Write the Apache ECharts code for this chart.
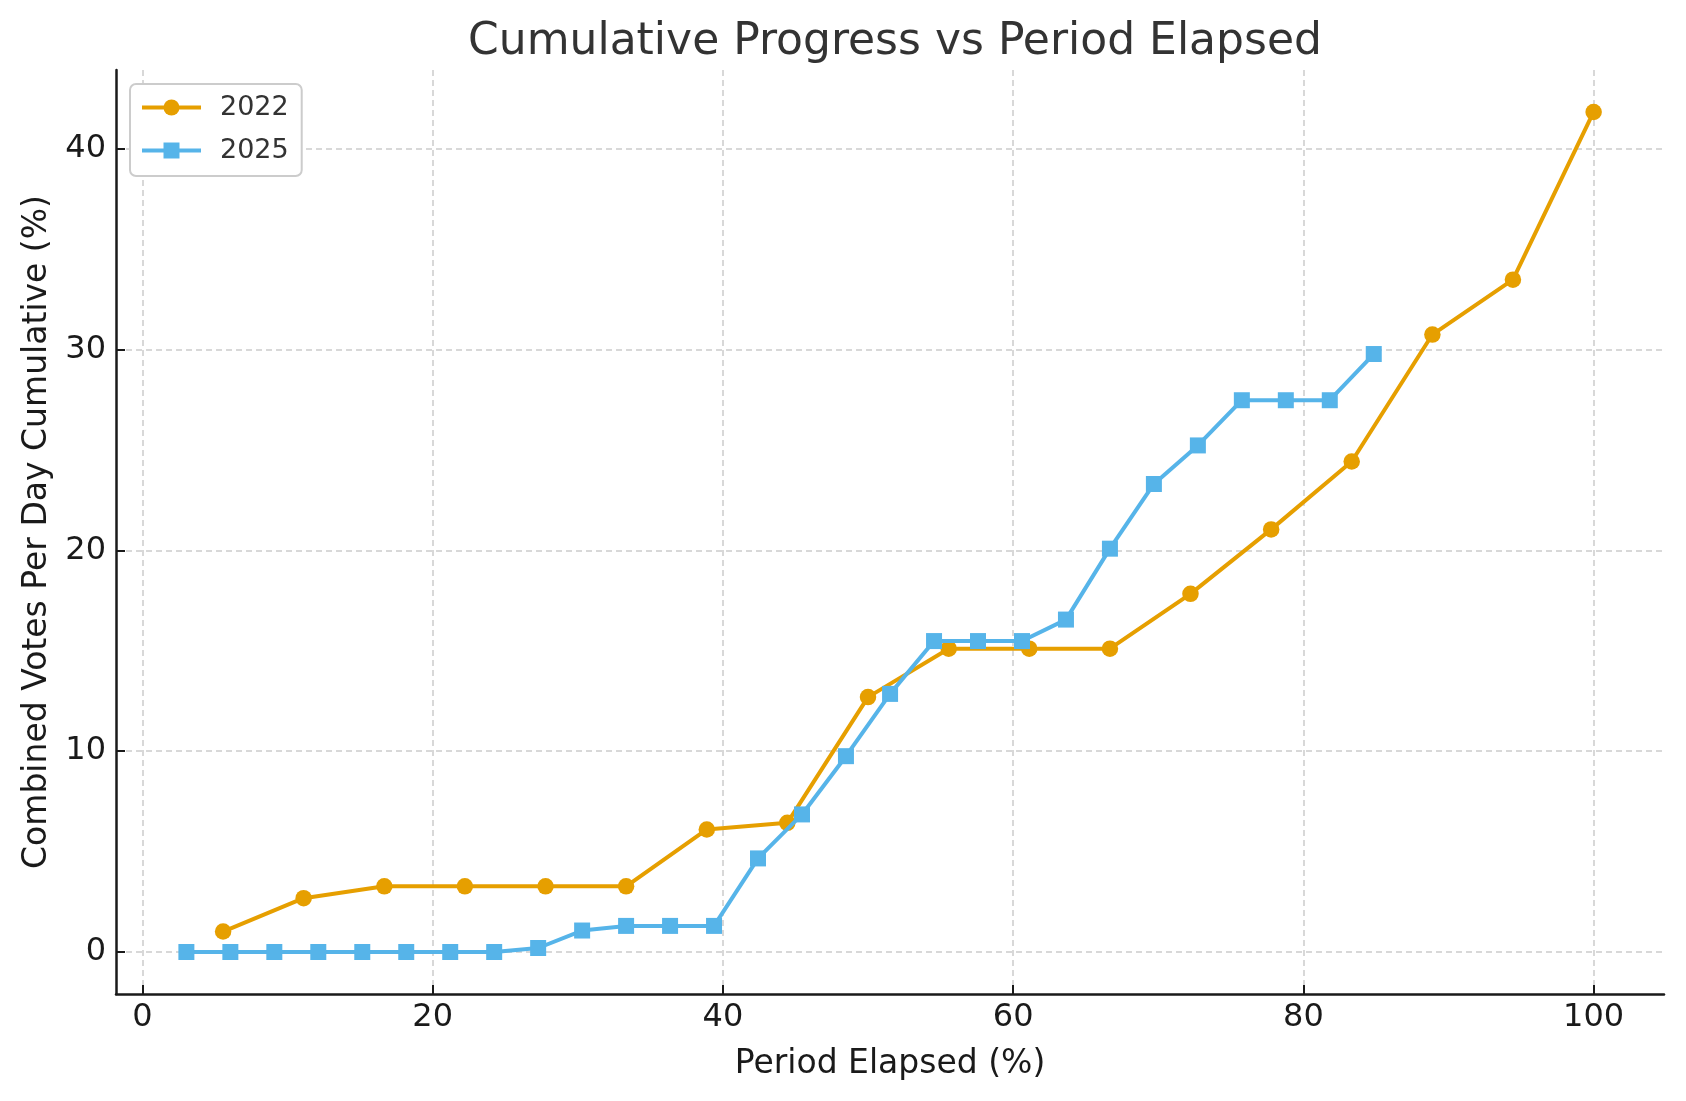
<!DOCTYPE html>
<html>
<head>
<meta charset="utf-8">
<script src="https://cdn.jsdelivr.net/npm/echarts@6/dist/echarts.min.js"></script>
<style>
html, body { margin: 0; padding: 0; background: #fff; }
#chart { width: 1686px; height: 1101px; }
</style>
</head>
<body>
<div id="chart"></div>
<script>
const seriesNames = ['2022', '2025'];
const x2022 = [5.56, 11.11, 16.67, 22.22, 27.78, 33.33, 38.89, 44.44, 50.00, 55.56, 61.11, 66.67, 72.22, 77.78, 83.33, 88.89, 94.44, 100.00];
const y2022 = [1.02, 2.68, 3.27, 3.27, 3.27, 3.27, 6.10, 6.43, 12.69, 15.10, 15.10, 15.10, 17.83, 21.04, 24.42, 30.74, 33.47, 41.82];
const x2025 = [3.03, 6.06, 9.09, 12.12, 15.15, 18.18, 21.21, 24.24, 27.27, 30.30, 33.33, 36.36, 39.39, 42.42, 45.45, 48.48, 51.52, 54.55, 57.58, 60.61, 63.64, 66.67, 69.70, 72.73, 75.76, 78.79, 81.82, 84.85];
const y2025 = [0, 0, 0, 0, 0, 0, 0, 0, 0.20, 1.07, 1.30, 1.30, 1.30, 4.66, 6.85, 9.75, 12.85, 15.48, 15.48, 15.48, 16.55, 20.08, 23.30, 25.22, 27.47, 27.47, 27.47, 29.77];
const xTicks = [0, 20, 40, 60, 80, 100];
const yTicks = [0, 10, 20, 30, 40];

const toPairs = (xs, ys) => xs.map((x, i) => [x, ys[i]]);

const chart = echarts.init(document.getElementById('chart'), null, { renderer: 'canvas' });
const font = 'DejaVu Sans';
const splitStyle = { show: true, lineStyle: { color: '#cccccc', width: 1.5, type: [6, 4] } };

chart.setOption({
  animation: false,
  backgroundColor: '#ffffff',
  textStyle: { fontFamily: font },
  title: {
    text: 'Cumulative Progress vs Period Elapsed',
    left: 890,
    textAlign: 'center',
    top: 16,
    textStyle: { fontFamily: font, fontSize: 44, fontWeight: 'normal', color: '#333333' }
  },
  legend: {
    data: seriesNames,
    orient: 'vertical',
    left: 130,
    top: 84,
    backgroundColor: '#ffffff',
    borderColor: '#cccccc',
    borderWidth: 2,
    borderRadius: 6,
    padding: [10, 13, 12, 10],
    itemWidth: 59,
    itemHeight: 20,
    itemGap: 16,
    lineStyle: { width: 4 },
    textStyle: { fontFamily: font, fontSize: 27, color: '#333333', padding: [0, 0, 0, 14] }
  },
  grid: { left: 116, right: 22, top: 70, bottom: 107, containLabel: false, outerBoundsMode: 'none' },
  xAxis: {
    type: 'value',
    min: -1.82,
    max: 104.85,
    name: 'Period Elapsed (%)',
    nameLocation: 'middle',
    nameGap: 54,
    nameTextStyle: { fontFamily: font, fontSize: 33, color: '#1a1a1a' },
    axisLine: { show: true, onZero: false, lineStyle: { color: '#1a1a1a', width: 2.5 } },
    axisTick: { show: true, inside: true, length: 9, customValues: xTicks, lineStyle: { color: '#1a1a1a', width: 2 } },
    axisLabel: { customValues: xTicks, margin: 8, fontFamily: font, fontSize: 32, color: '#1a1a1a' },
    splitLine: splitStyle
  },
  yAxis: {
    type: 'value',
    min: -2.09,
    max: 43.91,
    name: 'Combined Votes Per Day Cumulative (%)',
    nameLocation: 'middle',
    nameGap: 62,
    nameRotate: 90,
    nameTextStyle: { fontFamily: font, fontSize: 33, color: '#1a1a1a' },
    axisLine: { show: true, onZero: false, lineStyle: { color: '#1a1a1a', width: 2.5 } },
    axisTick: { show: true, inside: true, length: 9, customValues: yTicks, lineStyle: { color: '#1a1a1a', width: 2 } },
    axisLabel: { customValues: yTicks, margin: 10, fontFamily: font, fontSize: 32, color: '#1a1a1a' },
    splitLine: splitStyle
  },
  series: [
    {
      name: seriesNames[0],
      type: 'line',
      data: toPairs(x2022, y2022),
      symbol: 'circle',
      symbolSize: 16.5,
      showAllSymbol: true,
      itemStyle: { color: '#E69F00' },
      lineStyle: { color: '#E69F00', width: 4 },
      z: 2
    },
    {
      name: seriesNames[1],
      type: 'line',
      data: toPairs(x2025, y2025),
      symbol: 'rect',
      symbolSize: 16,
      showAllSymbol: true,
      itemStyle: { color: '#56B4E9' },
      lineStyle: { color: '#56B4E9', width: 4 },
      z: 3
    }
  ]
});
</script>
</body>
</html>
